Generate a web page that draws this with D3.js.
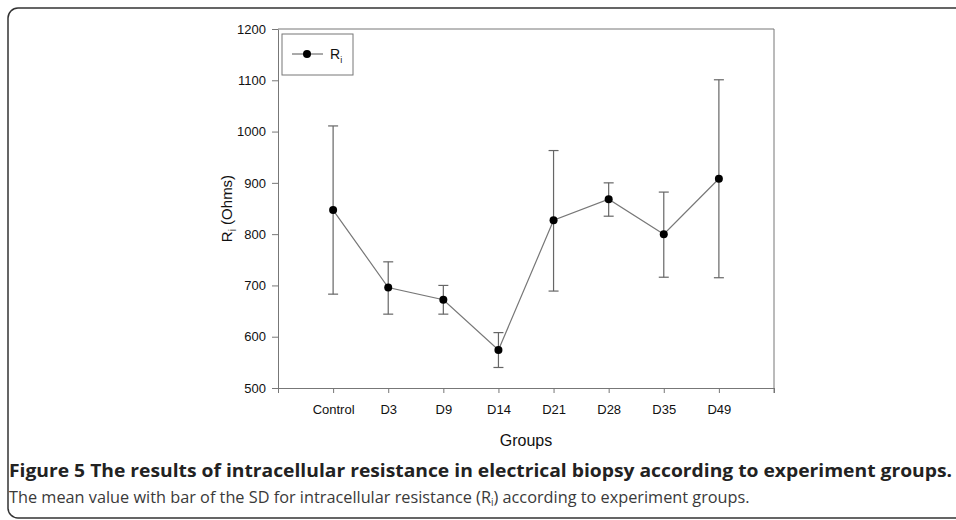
<!DOCTYPE html>
<html>
<head>
<meta charset="utf-8">
<script src="https://cdn.jsdelivr.net/npm/d3@7"></script>
<style>
body { margin: 0; background: #fff; }
svg { display: block; }
.axis text { font-family: "Liberation Sans", Arial, sans-serif; font-size: 13px; fill: #111; }
.axis path, .axis line { stroke: #777; }
</style>
</head>
<body>
<script>
var width = 956;
var height = 520;

var groups = ["Control", "D3", "D9", "D14", "D21", "D28", "D35", "D49"];
var means = [847, 696, 672, 574, 827, 868, 800, 908];
var upper = [1011, 746, 700, 608, 963, 900, 882, 1101];
var lower = [683, 644, 644, 540, 689, 835, 716, 715];
var yTicks = [500, 600, 700, 800, 900, 1000, 1100, 1200];

var plot = {left: 278, right: 774, top: 29, bottom: 388};

var x = d3.scaleLinear().domain([0, groups.length + 1]).range([plot.left, plot.right]);
var y = d3.scaleLinear().domain([500, 1200]).range([plot.bottom, plot.top]);

var svg = d3.select("body")
    .append("svg")
    .attr("width", width)
    .attr("height", height)
;

// outer figure frame, open on the right
svg.append("rect")
    .attr("x", 8)
    .attr("y", 8)
    .attr("width", 980)
    .attr("height", 510)
    .attr("rx", 10)
    .attr("fill", "none")
    .attr("stroke", "#333")
    .attr("stroke-width", 1.5)
;

svg.append("g")
    .attr("class", "axis")
    .attr("transform", `translate(0, ${plot.bottom})`)
    .call(d3.axisBottom(x)
        .tickValues(d3.range(0, groups.length + 2))
        .tickFormat(i => groups[i - 1] || "")
        .tickSize(5)
        .tickSizeOuter(0)
        .tickPadding(12))
;

svg.append("g")
    .attr("class", "axis")
    .attr("transform", `translate(${plot.left}, 0)`)
    .call(d3.axisLeft(y)
        .tickValues(yTicks)
        .tickFormat(d3.format("d"))
        .tickSize(6)
        .tickSizeOuter(0)
        .tickPadding(6))
;

// top and right sides of the plot box
svg.append("path")
    .attr("d", `M${plot.left},${plot.top}H${plot.right}V${plot.bottom + 5}`)
    .attr("fill", "none")
    .attr("stroke", "#777")
;

var font = "'Liberation Sans', Arial, sans-serif";

svg.append("text")
    .attr("x", (plot.left + plot.right) / 2)
    .attr("y", 446)
    .attr("text-anchor", "middle")
    .attr("font-family", font)
    .attr("font-size", 16)
    .attr("fill", "#111")
    .text("Groups")
;

var ylab = svg.append("text")
    .attr("transform", `translate(232, ${(plot.top + plot.bottom) / 2}) rotate(-90)`)
    .attr("text-anchor", "middle")
    .attr("font-family", font)
    .attr("font-size", 15)
    .attr("fill", "#111")
;
ylab.append("tspan").text("R");
ylab.append("tspan").attr("font-size", 10).attr("dy", 4).text("i");
ylab.append("tspan").attr("dy", -4).text(" (Ohms)");

// error bars
var bars = svg.append("g").attr("class", "errors");
groups.forEach(function(g, i) {
    var cx = x(i + 1);
    bars.append("line")
        .attr("x1", cx).attr("x2", cx)
        .attr("y1", y(upper[i])).attr("y2", y(lower[i]))
        .attr("stroke", "#666").attr("stroke-width", 1.2);
    [upper[i], lower[i]].forEach(function(v) {
        bars.append("line")
            .attr("x1", cx - 5).attr("x2", cx + 5)
            .attr("y1", y(v)).attr("y2", y(v))
            .attr("stroke", "#666").attr("stroke-width", 1.2);
    });
});

var line = d3.line()
    .x((d, i) => x(i + 1))
    .y(d => y(d))
;

svg.append("path")
    .attr("d", line(means))
    .attr("fill", "none")
    .attr("stroke", "#777")
    .attr("stroke-width", 1.2)
;

svg.append("g")
    .selectAll("circle")
    .data(means)
    .enter().append("circle")
    .attr("cx", (d, i) => x(i + 1))
    .attr("cy", d => y(d))
    .attr("r", 4)
    .attr("fill", "#000")
;

// legend
var legend = svg.append("g");
legend.append("rect")
    .attr("x", 282).attr("y", 34)
    .attr("width", 71).attr("height", 41)
    .attr("fill", "#fff")
    .attr("stroke", "#777")
;
legend.append("line")
    .attr("x1", 292).attr("x2", 323)
    .attr("y1", 54).attr("y2", 54)
    .attr("stroke", "#555")
;
legend.append("circle")
    .attr("cx", 307).attr("cy", 54).attr("r", 4).attr("fill", "#000");
var lt = legend.append("text")
    .attr("x", 330).attr("y", 59)
    .attr("font-family", font)
    .attr("font-size", 14)
    .attr("fill", "#111")
;
lt.append("tspan").text("R");
lt.append("tspan").attr("font-size", 9).attr("dy", 4).text("i");

// caption
svg.append("text")
    .attr("x", 9)
    .attr("y", 477)
    .attr("font-family", "'Open Sans', sans-serif")
    .attr("font-weight", "bold")
    .attr("font-size", 17)
    .attr("fill", "#222")
    .attr("textLength", 943)
    .attr("lengthAdjust", "spacingAndGlyphs")
    .text("Figure 5 The results of intracellular resistance in electrical biopsy according to experiment groups.")
;

var cap = svg.append("text")
    .attr("x", 9)
    .attr("y", 503)
    .attr("font-family", "'Open Sans', sans-serif")
    .attr("font-size", 16.3)
    .attr("fill", "#3a3a3a")
;
cap.append("tspan").text("The mean value with bar of the SD for intracellular resistance (R");
cap.append("tspan").attr("font-size", 10).attr("dy", 3).text("i");
cap.append("tspan").attr("dy", -3).text(") according to experiment groups.");
</script>
</body>
</html>
